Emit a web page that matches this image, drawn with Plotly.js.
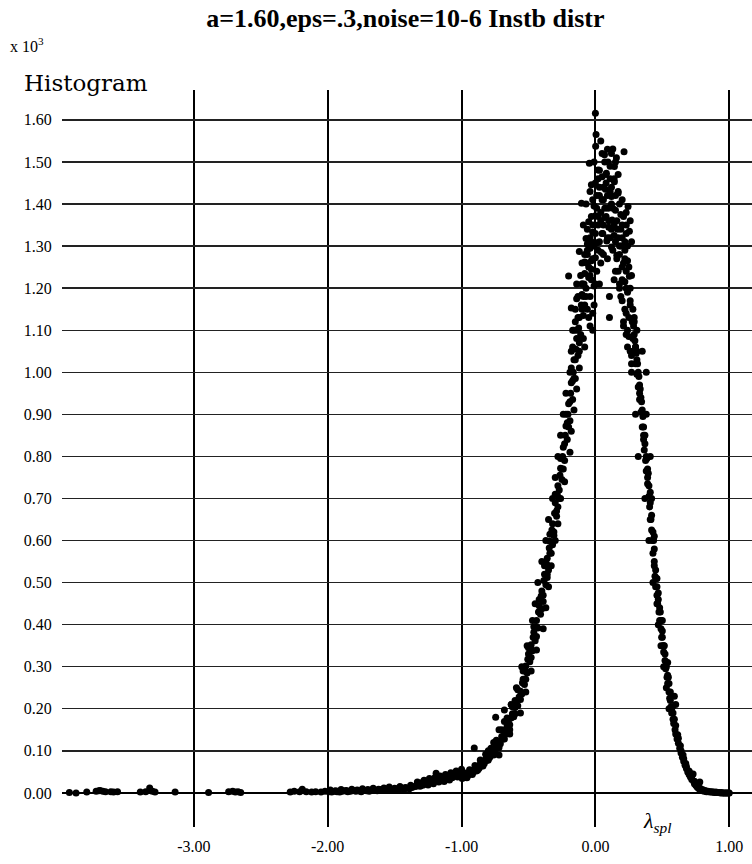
<!DOCTYPE html>
<html>
<head>
<meta charset="utf-8">
<script src="https://cdn.plot.ly/plotly-3.0.1.min.js"></script>
<style>html,body{margin:0;padding:0;background:#fff;}#chart{width:752px;height:864px;}</style>
</head>
<body>
<div id="chart"></div>
<script>
// Far-left sparse tail (x < -2)
const tailX = [-3.93,-3.88,-3.80,-3.73,-3.71,-3.70,-3.68,-3.66,-3.62,-3.60,-3.57,-3.40,-3.36,-3.33,-3.31,-3.29,-3.14,-2.89,-2.74,-2.71,-2.69,-2.67,-2.65,-2.28,-2.25,-2.21,-2.19,-2.16,-2.12,-2.09,-2.05,-2.02];
const tailY = [0.001,0.000,0.002,0.004,0.005,0.006,0.004,0.003,0.003,0.002,0.003,0.002,0.003,0.012,0.004,0.002,0.002,0.001,0.003,0.004,0.002,0.003,0.001,0.002,0.004,0.003,0.009,0.003,0.002,0.003,0.002,0.004];

// Low continuous band (-2 .. -1)
const lowX = [-1.99,-1.97,-1.95,-1.93,-1.91,-1.89,-1.87,-1.85,-1.83,-1.81,-1.79,-1.77,-1.75,-1.73,-1.71,-1.69,-1.67,-1.65,-1.63,-1.61,-1.59,-1.57,-1.55,-1.53,-1.51,-1.49,-1.47,-1.45,-1.43,-1.41,-1.39,-1.37,-1.35,-1.33,-1.31,-1.29,-1.27,-1.25,-1.23,-1.21,-1.19,-1.17,-1.15,-1.13,-1.11,-1.09,-1.07,-1.05,-1.03,-1.01];
const lowY = [0.003,0.002,0.004,0.003,0.002,0.004,0.005,0.003,0.004,0.006,0.004,0.005,0.003,0.006,0.005,0.004,0.007,0.006,0.005,0.008,0.006,0.009,0.007,0.008,0.006,0.010,0.009,0.011,0.008,0.012,0.010,0.013,0.015,0.026,0.016,0.018,0.021,0.019,0.024,0.022,0.047,0.026,0.030,0.027,0.033,0.031,0.036,0.047,0.038,0.041];
const lowX2 = [-1.98,-1.94,-1.90,-1.86,-1.82,-1.78,-1.74,-1.70,-1.66,-1.62,-1.58,-1.54,-1.50,-1.46,-1.42,-1.38,-1.34,-1.30,-1.28,-1.26,-1.24,-1.22,-1.20,-1.18,-1.16,-1.14,-1.12,-1.10,-1.08,-1.06,-1.04,-1.02,-1.00,-0.99];
const lowY2 = [0.007,0.005,0.008,0.006,0.009,0.007,0.010,0.008,0.011,0.009,0.012,0.014,0.011,0.015,0.013,0.018,0.016,0.024,0.030,0.022,0.034,0.028,0.036,0.030,0.040,0.034,0.044,0.038,0.048,0.042,0.052,0.046,0.056,0.050];

// Left flank (-1 .. 0)
const leftX = [-0.995,-0.985,-0.975,-0.965,-0.955,-0.945,-0.935,-0.925,-0.915,-0.905,-0.900,-0.890,-0.880,-0.870,-0.860,-0.850,-0.840,-0.830,-0.820,-0.810,-0.800,-0.790,-0.780,-0.770,-0.760,-0.750,-0.745,-0.740,-0.730,-0.720,-0.710,-0.700,-0.690,-0.680,-0.680,-0.670,-0.660,-0.650,-0.640,-0.630,-0.620,-0.610,-0.600,-0.590,-0.580,-0.570,-0.560,-0.550,-0.545,-0.540,-0.530,-0.525,-0.520,-0.510,-0.505,-0.500,-0.490,-0.485,-0.480,-0.470,-0.465,-0.460,-0.450,-0.445,-0.440,-0.430,-0.425,-0.420,-0.410,-0.405,-0.400,-0.390,-0.385,-0.380,-0.370,-0.365,-0.360,-0.350,-0.345,-0.340,-0.330,-0.325,-0.320,-0.310,-0.305,-0.300,-0.290,-0.285,-0.280,-0.270,-0.265,-0.260,-0.250,-0.245,-0.240,-0.230,-0.225,-0.220,-0.210,-0.205,-0.200,-0.190,-0.185,-0.180,-0.170,-0.165,-0.160,-0.150,-0.145,-0.140,-0.130,-0.125,-0.120,-0.110,-0.105,-0.100,-0.090,-0.085,-0.080,-0.070,-0.065,-0.060,-0.050,-0.045,-0.040,-0.030];
const leftY = [0.034,0.041,0.037,0.044,0.040,0.049,0.045,0.052,0.048,0.107,0.056,0.052,0.062,0.058,0.068,0.064,0.074,0.070,0.080,0.077,0.089,0.084,0.096,0.091,0.103,0.098,0.180,0.112,0.108,0.122,0.117,0.134,0.128,0.197,0.146,0.140,0.158,0.168,0.162,0.178,0.188,0.181,0.203,0.214,0.207,0.228,0.242,0.235,0.262,0.270,0.258,0.290,0.302,0.285,0.318,0.330,0.312,0.345,0.352,0.338,0.370,0.382,0.362,0.395,0.410,0.392,0.430,0.445,0.425,0.468,0.480,0.455,0.505,0.520,0.495,0.545,0.558,0.530,0.582,0.598,0.570,0.625,0.640,0.612,0.665,0.690,0.658,0.710,0.730,0.700,0.755,0.772,0.745,0.800,0.822,0.790,0.850,0.872,0.840,0.900,0.925,0.885,0.950,0.975,0.935,1.000,1.030,0.985,1.055,1.080,1.040,1.105,1.130,1.090,1.160,1.185,1.135,1.210,1.235,1.180,1.260,1.280,1.225,1.300,1.320,1.265];
const leftX2 = [-0.98,-0.96,-0.94,-0.92,-0.90,-0.88,-0.86,-0.84,-0.82,-0.80,-0.78,-0.76,-0.74,-0.72,-0.70,-0.68,-0.66,-0.64,-0.62,-0.60,-0.58,-0.56,-0.54,-0.52,-0.50,-0.48,-0.46,-0.44,-0.42,-0.40,-0.38,-0.36,-0.34,-0.32,-0.30,-0.28,-0.26,-0.24,-0.22,-0.20,-0.18,-0.16,-0.14,-0.12,-0.10,-0.08,-0.06,-0.04,-0.02];
const leftY2 = [0.046,0.036,0.055,0.044,0.065,0.054,0.078,0.064,0.092,0.078,0.106,0.090,0.125,0.108,0.150,0.128,0.178,0.150,0.205,0.188,0.245,0.222,0.290,0.270,0.345,0.322,0.395,0.372,0.460,0.438,0.540,0.512,0.615,0.590,0.710,0.680,0.795,0.770,0.900,0.870,1.010,0.985,1.100,1.070,1.210,1.160,1.305,1.230,1.350];
const leftX3 = [-0.80,-0.72,-0.72,-0.64,-0.63,-0.56,-0.59,-0.52,-0.55,-0.48,-0.51,-0.44,-0.47,-0.39,-0.45,-0.37,-0.43,-0.35,-0.40,-0.33,-0.37,-0.30,-0.35,-0.28,-0.32,-0.26,-0.30,-0.23,-0.28,-0.19,-0.26,-0.18,-0.24,-0.16,-0.22,-0.14,-0.19,-0.12,-0.18,-0.08,-0.17,-0.04,-0.15,-0.02,-0.76,-0.68,-0.60,-0.53,-0.49,-0.45,-0.42,-0.39,-0.36,-0.34,-0.31,-0.29,-0.27,-0.25,-0.23,-0.21,-0.19,-0.17,-0.15];
const leftY3 = [0.10,0.09,0.15,0.14,0.21,0.19,0.25,0.24,0.30,0.29,0.35,0.34,0.41,0.39,0.45,0.44,0.50,0.49,0.55,0.54,0.60,0.60,0.65,0.64,0.70,0.70,0.75,0.74,0.80,0.81,0.85,0.86,0.90,0.91,0.95,0.96,1.00,1.01,1.05,1.06,1.10,1.11,1.15,1.14,0.12,0.17,0.22,0.27,0.32,0.37,0.43,0.47,0.52,0.57,0.62,0.67,0.72,0.77,0.83,0.88,0.93,0.98,1.03];

// Peak region
const peakX = [0.000,0.005,0.002,0.130,0.214,0.068,0.157,-0.045,0.094,0.142,0.020,0.082,0.050,0.110,-0.030,0.142,0.030,0.075,0.170,0.010,0.120,0.060,-0.104,0.244,-0.010,0.095,0.150,0.040,0.190,0.000,0.070,0.125,-0.050,0.231,0.020,0.100,0.165,0.254,-0.020,0.055,0.140,0.200,-0.070,0.085,0.010,0.180,0.120,-0.040,0.220,-0.120,0.045,0.160,0.000,0.240,-0.080,0.200,-0.030,0.150,-0.200,0.254,0.220,-0.100,-0.010,0.180,0.105,0.240,-0.140,0.200,-0.180,0.260,0.105,-0.060,0.230,0.275,-0.150,0.210,-0.020,0.290,0.250,-0.090,-0.170,0.300,0.270];
const peakY = [1.616,1.565,1.537,1.531,1.524,1.517,1.510,1.497,1.500,1.489,1.481,1.473,1.465,1.460,1.446,1.453,1.440,1.435,1.426,1.420,1.418,1.410,1.402,1.394,1.395,1.390,1.385,1.380,1.375,1.372,1.368,1.362,1.358,1.350,1.350,1.345,1.340,1.335,1.333,1.330,1.325,1.320,1.318,1.312,1.308,1.300,1.298,1.295,1.290,1.287,1.285,1.278,1.272,1.265,1.262,1.250,1.245,1.240,1.229,1.228,1.215,1.210,1.205,1.200,1.180,1.190,1.175,1.170,1.153,1.160,1.130,1.150,1.140,1.120,1.120,1.110,1.100,1.090,1.085,1.080,1.060,1.060,1.040];
const peakX2 = [0.00,0.03,0.06,0.09,0.12,0.15,0.18,0.21,-0.02,0.01,0.04,0.07,0.10,0.13,0.16,0.19,0.22,-0.06,-0.03,0.00,0.03,0.06,0.09,0.12,0.15,0.18,0.21,0.24,-0.08,-0.05,-0.02,0.01,0.04,0.17,0.20,0.23,0.26,-0.11,-0.07,-0.04,-0.01,0.19,0.22,0.25,0.28,-0.13,-0.10,-0.16,-0.12,0.24,0.27,0.31,0.03,0.08,0.11,0.05,0.17,-0.01,0.12,0.02];
const peakY2 = [1.45,1.42,1.44,1.42,1.44,1.42,1.40,1.37,1.41,1.39,1.36,1.39,1.36,1.39,1.36,1.34,1.31,1.34,1.31,1.33,1.31,1.35,1.32,1.34,1.31,1.28,1.26,1.30,1.28,1.25,1.27,1.24,1.26,1.24,1.22,1.24,1.20,1.23,1.20,1.18,1.16,1.18,1.15,1.13,1.15,1.18,1.15,1.10,1.05,1.06,1.02,1.05,1.48,1.47,1.49,1.52,1.47,1.50,1.40,1.29];
const peakX3 = [-0.07,-0.04,0.02,0.05,0.08,0.11,0.14,0.17,0.20,0.23,0.26,-0.09,-0.03,0.02,0.05,0.08,0.11,0.14,0.17,0.20,0.23,0.27,-0.06,-0.01,0.06,0.09,0.13,0.16,0.19,0.22,0.25,-0.10,-0.03,0.00,0.03,0.14,0.18,0.23,0.27,-0.14,-0.09,-0.05,0.21,0.26,0.29,-0.13,0.23,0.04,0.09,0.15,0.12,0.07];
const peakY3 = [1.40,1.43,1.46,1.41,1.45,1.43,1.46,1.43,1.41,1.38,1.36,1.35,1.37,1.37,1.33,1.37,1.32,1.35,1.32,1.35,1.33,1.31,1.29,1.30,1.28,1.27,1.29,1.27,1.30,1.27,1.25,1.26,1.22,1.21,1.21,1.22,1.21,1.20,1.23,1.21,1.18,1.13,1.12,1.17,1.13,1.13,1.09,1.55,1.53,1.50,1.52,1.50];

// Right flank (0.28 .. 1.0)
const rightX = [0.280,0.285,0.290,0.295,0.300,0.305,0.310,0.315,0.320,0.325,0.330,0.335,0.340,0.345,0.350,0.355,0.360,0.365,0.370,0.375,0.380,0.385,0.390,0.395,0.400,0.405,0.410,0.415,0.420,0.425,0.430,0.435,0.440,0.445,0.450,0.455,0.460,0.465,0.470,0.475,0.480,0.485,0.490,0.495,0.500,0.505,0.510,0.515,0.520,0.525,0.530,0.535,0.540,0.545,0.550,0.555,0.560,0.565,0.570,0.575,0.580,0.585,0.590,0.595,0.600,0.610,0.615,0.620,0.630,0.635,0.640,0.650,0.655,0.660,0.670,0.675,0.680,0.690,0.700,0.705,0.710,0.720,0.730,0.735,0.740,0.750,0.760,0.770,0.780,0.780,0.790,0.800,0.815,0.830,0.845,0.860,0.875,0.890,0.905,0.920,0.935,0.950,0.965,0.980,0.995];
const rightY = [1.080,1.110,1.050,1.075,1.020,1.045,0.995,1.020,0.965,0.990,0.935,0.960,0.905,0.930,0.870,0.895,0.840,0.815,0.850,0.790,0.765,0.795,0.735,0.760,0.705,0.680,0.715,0.650,0.625,0.600,0.570,0.600,0.540,0.515,0.490,0.510,0.470,0.450,0.475,0.430,0.410,0.430,0.390,0.370,0.385,0.350,0.335,0.350,0.315,0.295,0.310,0.275,0.260,0.275,0.240,0.225,0.240,0.205,0.190,0.205,0.175,0.165,0.175,0.150,0.140,0.128,0.138,0.118,0.106,0.112,0.095,0.085,0.090,0.075,0.066,0.070,0.058,0.050,0.044,0.048,0.038,0.032,0.045,0.027,0.022,0.018,0.014,0.011,0.009,0.026,0.007,0.005,0.004,0.003,0.003,0.002,0.002,0.001,0.001,0.001,0.000,0.000,0.000,0.000,0.000];
const rightX2 = [0.29,0.30,0.31,0.32,0.33,0.34,0.35,0.36,0.37,0.38,0.39,0.40,0.41,0.42,0.43,0.44,0.45,0.46,0.47,0.48,0.49,0.50,0.51,0.52,0.53,0.54,0.55,0.56,0.57,0.58,0.60,0.62,0.64,0.66,0.68,0.70,0.72,0.74,0.76,0.78,0.80,0.82,0.84,0.86,0.88,0.90,0.92,0.94,0.96,0.98,1.00];
const rightY2 = [1.12,1.06,1.03,1.00,0.97,0.94,0.91,0.87,0.83,0.80,0.77,0.73,0.69,0.66,0.62,0.58,0.53,0.49,0.46,0.44,0.41,0.37,0.35,0.33,0.30,0.28,0.26,0.22,0.20,0.19,0.16,0.13,0.10,0.081,0.063,0.052,0.040,0.028,0.018,0.012,0.008,0.006,0.004,0.003,0.002,0.002,0.001,0.001,0.000,0.000,0.000];
const rightX3 = [0.27,0.38,0.30,0.38,0.32,0.41,0.37,0.42,0.40,0.44,0.43,0.46,0.47,0.50,0.51,0.54,0.55,0.60,0.59,0.33,0.36,0.39,0.41,0.44,0.46,0.49,0.53,0.26,0.35,0.24,0.31];
const rightY3 = [1.00,1.00,0.90,0.90,0.80,0.80,0.70,0.70,0.60,0.61,0.50,0.51,0.40,0.41,0.30,0.31,0.20,0.21,0.23,0.95,0.85,0.75,0.65,0.55,0.45,0.35,0.25,1.05,1.05,1.10,1.10];

const xTickVals = [-3, -2, -1, 0, 1];
const xTickText = ["-3.00", "-2.00", "-1.00", "0.00", "1.00"];
const yTickVals = [0,0.1,0.2,0.3,0.4,0.5,0.6,0.7,0.8,0.9,1.0,1.1,1.2,1.3,1.4,1.5,1.6];
const yTickText = ["0.00","0.10","0.20","0.30","0.40","0.50","0.60","0.70","0.80","0.90","1.00","1.10","1.20","1.30","1.40","1.50","1.60"];

const titleText = "a=1.60,eps=.3,noise=10-6 Instb distr";

const allX = [].concat(tailX, lowX, lowX2, leftX, leftX2, leftX3, peakX, peakX2, peakX3, rightX, rightX2, rightX3);
const allY = [].concat(tailY, lowY, lowY2, leftY, leftY2, leftY3, peakY, peakY2, peakY3, rightY, rightY2, rightY3);

const data = [{
  x: allX, y: allY, type: 'scatter', mode: 'markers',
  marker: {color: '#000', size: 7, line: {width: 0}},
  hoverinfo: 'x+y', showlegend: false
}];

const serif = '"Liberation Serif", "Times New Roman", serif';
const layout = {
  width: 752, height: 864,
  margin: {l: 62, r: 0, t: 90, b: 37, pad: 0},
  paper_bgcolor: '#fff', plot_bgcolor: '#fff',
  showlegend: false,
  title: {
    text: '<b>' + titleText + '</b>',
    font: {family: serif, size: 26, color: '#000'},
    x: 0.539, xref: 'container', xanchor: 'center',
    y: 0.979, yref: 'container', yanchor: 'middle'
  },
  xaxis: {
    range: [-3.985, 1.17],
    tickvals: xTickVals, ticktext: xTickText,
    showgrid: true, gridcolor: '#000', gridwidth: 2,
    zeroline: false, showline: false,
    ticks: 'outside', ticklen: 5, tickcolor: 'rgba(0,0,0,0)',
    tickfont: {family: serif, size: 16, color: '#000'},
    fixedrange: true
  },
  yaxis: {
    range: [-0.081, 1.671],
    tickvals: yTickVals, ticktext: yTickText,
    showgrid: true, gridcolor: '#222', gridwidth: 1.4,
    zeroline: true, zerolinecolor: '#000', zerolinewidth: 2.2,
    showline: false,
    ticks: 'outside', ticklen: 6, tickcolor: 'rgba(0,0,0,0)',
    tickfont: {family: serif, size: 16, color: '#000'},
    fixedrange: true
  },
  annotations: [
    {text: 'x 10<sup>3</sup>', xref: 'paper', yref: 'paper', x: -0.078, y: 1.061,
     xanchor: 'left', yanchor: 'middle', showarrow: false,
     font: {family: serif, size: 16, color: '#000'}},
    {text: 'Histogram', xref: 'paper', yref: 'paper', x: -0.058, y: 1.0095,
     xanchor: 'left', yanchor: 'middle', showarrow: false,
     font: {family: 'DejaVu Serif, serif', size: 23, color: '#000'}},
    {text: '<i>λ<sub>spl</sub></i>', xref: 'x', yref: 'paper', x: 0.463, y: 0.007,
     xanchor: 'center', yanchor: 'middle', showarrow: false,
     font: {family: serif, size: 22, color: '#000'}}
  ]
};

Plotly.newPlot('chart', data, layout, {displayModeBar: false, staticPlot: true});
</script>
</body>
</html>
